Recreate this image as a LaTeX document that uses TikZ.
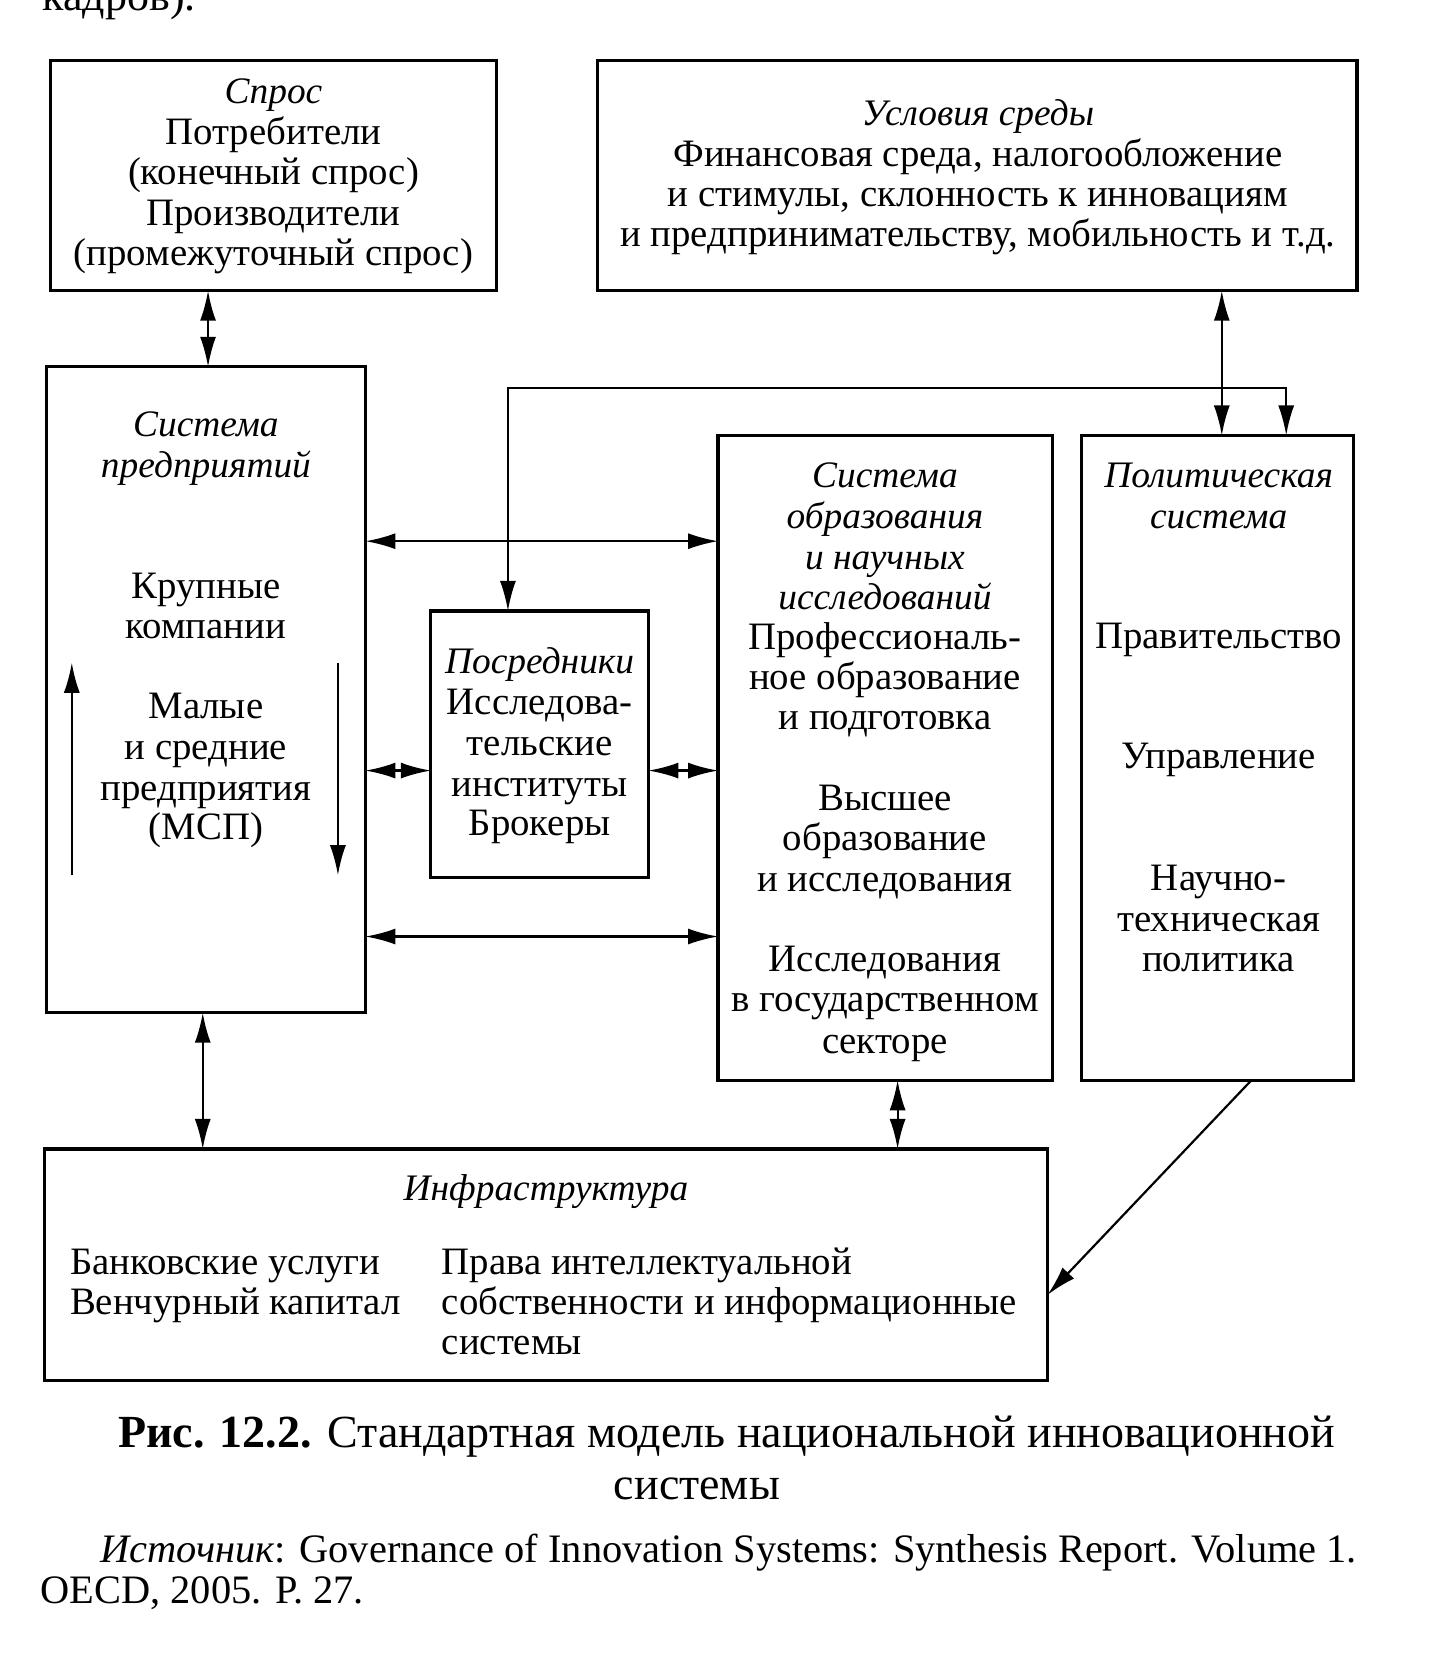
\documentclass[tikz,border=0pt]{standalone}
\usepackage{fontspec}
\setmainfont{Liberation Serif}
\usetikzlibrary{arrows.meta}
\def\U{0.528pt}
\def\V{0.5285pt}
\begin{document}
\begin{tikzpicture}[x=0.528pt,y=-0.5285pt,
  box/.style={draw,line width=1.6pt,inner sep=0pt,outer sep=0pt},
  tx/.style={font=\fontsize{19.4}{20}\selectfont,anchor=mid,inner sep=0pt},
  it/.style={tx,font=\fontsize{18.7}{20}\selectfont\itshape},
  dbl/.style={line width=1.1pt,{Latex[length=15pt,width=8pt]}-{Latex[length=15pt,width=8pt]}},
  one/.style={line width=1.1pt,-{Latex[length=15pt,width=8pt]}}]
\useasboundingbox (0pt,0pt) rectangle (715.5pt,-828pt);
% cut-off text at the top
\node[font=\fontsize{22}{24}\selectfont,anchor=base west,inner sep=0pt] (top) at (40,10) {кадров).};
% boxes
\node[box,minimum width=422*\U,minimum height=218*\V] (spros) at (259,166) {};
\node[box,minimum width=719*\U,minimum height=218*\V] (usl) at (925.5,166) {};
\node[box,minimum width=302*\U,minimum height=611*\V] (predpr) at (195,652.5) {};
\node[box,minimum width=206*\U,minimum height=252*\V] (posred) at (511,704) {};
\node[box,minimum width=317*\U,minimum height=610*\V] (obraz) at (838.5,717) {};
\node[box,minimum width=258*\U,minimum height=610*\V] (polit) at (1153,717) {};
\node[box,minimum width=950*\U,minimum height=219*\V] (infra) at (517,1196.5) {};
\begin{scope}[yshift=-7*\V]
% Spros
\node[it] (s1) at (259,87) {Спрос};
\node[tx] (s2) at (259,125) {Потребители};
\node[tx] (s3) at (259,163) {(конечный спрос)};
\node[tx] (s4) at (259,202) {Производители};
\node[tx] (s5) at (259,240) {(промежуточный спрос)};
% Usloviya
\node[it] (u1) at (926,107) {Условия среды};
\node[tx] (u2) at (926,146) {Финансовая среда, налогообложение};
\node[tx] (u3) at (926,184) {и стимулы, склонность к инновациям};
\node[tx] (u4) at (926,222) {и предпринимательству, мобильность и т.д.};
% Predpriyatiy
\node[it] (p1) at (195,402) {Система};
\node[it] (p2) at (195,440) {предприятий};
\node[tx] (p3) at (195,555) {Крупные};
\node[tx] (p4) at (195,593) {компании};
\node[tx] (p5) at (195,668) {Малые};
\node[tx] (p6) at (195,707) {и средние};
\node[tx] (p7) at (195,746) {предприятия};
\node[tx] (p8) at (195,783) {(МСП)};
% Posredniki
\node[it] (m1) at (511,626) {Посредники};
\node[tx] (m2) at (511,665) {Исследова-};
\node[tx] (m3) at (511,703) {тельские};
\node[tx] (m4) at (511,742) {институты};
\node[tx] (m5) at (511,779) {Брокеры};
% Obrazovanie
\node[it] (e1) at (838,450) {Система};
\node[it] (e2) at (838,489) {образования};
\node[it] (e3) at (838,527) {и научных};
\node[it] (e4) at (838,565) {исследований};
\node[tx] (e5) at (838,603) {Профессиональ-};
\node[tx] (e6) at (838,641) {ное образование};
\node[tx] (e7) at (838,679) {и подготовка};
\node[tx] (e8) at (838,755) {Высшее};
\node[tx] (e9) at (838,793) {образование};
\node[tx] (e10) at (838,832) {и исследования};
\node[tx] (e11) at (838,908) {Исследования};
\node[tx] (e12) at (838,946) {в государственном};
\node[tx] (e13) at (838,985) {секторе};
% Politicheskaya
\node[it] (g1) at (1154,450) {Политическая};
\node[it] (g2) at (1154,489) {система};
\node[tx] (g3) at (1154,602) {Правительство};
\node[tx] (g4) at (1154,716) {Управление};
\node[tx] (g5) at (1154,831) {Научно-};
\node[tx] (g6) at (1154,870) {техническая};
\node[tx] (g7) at (1154,908) {политика};
% Infrastruktura
\node[it] (i1) at (517,1124) {Инфраструктура};
\node[tx,anchor=mid west] (i2) at (66,1194) {Банковские услуги};
\node[tx,anchor=mid west] (i3) at (66,1232) {Венчурный капитал};
\node[tx,anchor=mid west] (i4) at (418,1194) {Права интеллектуальной};
\node[tx,anchor=mid west] (i5) at (418,1232) {собственности и информационные};
\node[tx,anchor=mid west] (i6) at (418,1270) {системы};
% caption
\node[tx,font=\fontsize{23}{25}\selectfont] (c1) at (688,1358) {\textbf{Рис. 12.2.} Стандартная модель национальной инновационной};
\node[tx,font=\fontsize{23}{25}\selectfont] (c2) at (660,1407) {системы};
\node[tx,anchor=mid west,font=\fontsize{20.2}{22}\selectfont] (c3) at (95,1467) {\textit{Источник}: Governance of Innovation Systems: Synthesis Report. Volume 1.};
\node[tx,anchor=mid west,font=\fontsize{20.2}{22}\selectfont] (c4) at (38,1506) {OECD, 2005. P. 27.};
\end{scope}
% helper coordinates
\coordinate (y367) at (0,367);
\coordinate (y512) at (0,512);
\coordinate (y729) at (0,729);
\coordinate (y886) at (0,886);
\coordinate (y1225) at (0,1225);
\coordinate (x192) at (192,0);
\coordinate (x197) at (197,0);
\coordinate (x481) at (481,0);
\coordinate (x850) at (850,0);
\coordinate (x1157) at (1157,0);
\coordinate (x1185) at (1185,0);
\coordinate (x1218) at (1218,0);
\coordinate (upA) at (68,828);
\coordinate (upB) at (68,627);
\coordinate (dnA) at (320,627);
\coordinate (dnB) at (320,828);
% connectors
\draw[dbl] (spros.south -| x197) -- (predpr.north -| x197);
\draw[dbl] (usl.south -| x1157) -- (polit.north -| x1157);
\draw[dbl] (posred.north -| x481) -- (x481 |- y367) -| (polit.north -| x1218);
\draw[dbl] (predpr.east |- y512) -- (obraz.west |- y512);
\draw[dbl] (predpr.east |- y729) -- (posred.west |- y729);
\draw[dbl] (posred.east |- y729) -- (obraz.west |- y729);
\draw[dbl] (predpr.east |- y886) -- (obraz.west |- y886);
\draw[dbl] (predpr.south -| x192) -- (infra.north -| x192);
\draw[dbl] (obraz.south -| x850) -- (infra.north -| x850);
\draw[one] (polit.south -| x1185) -- (infra.east |- y1225);
\draw[one] (upA) -- (upB);
\draw[one] (dnA) -- (dnB);
\end{tikzpicture}
\end{document}
